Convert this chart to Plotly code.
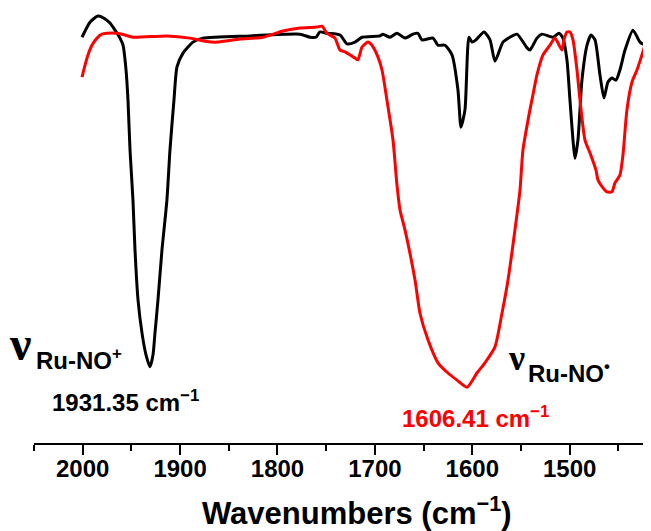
import plotly.graph_objects as go

# Black spectrum (Ru-NO+)
black_wn = [2000.7, 1992.5, 1984.3, 1978.1, 1972.0, 1966.8, 1961.7, 1958.6, 1955.5, 1953.5,
            1951.4, 1948.4, 1946.3, 1943.2, 1939.1, 1935.0, 1930.9, 1927.8, 1925.8, 1922.7,
            1918.6, 1913.5, 1910.4, 1906.3, 1903.2, 1897.0, 1886.8, 1876.5, 1828.2, 1776.9,
            1766.6, 1760.5, 1756.4, 1749.2, 1735.8, 1728.6, 1720.4, 1713.2, 1694.8, 1691.7,
            1684.5, 1677.3, 1669.1, 1660.9, 1655.8, 1651.6, 1640.4, 1635.2, 1628.0, 1620.8,
            1614.7, 1611.6, 1607.5, 1603.4, 1600.3, 1596.2, 1588.0, 1581.8, 1576.7, 1568.5,
            1561.3, 1554.1, 1543.8, 1540.8, 1533.6, 1528.4, 1517.1, 1511.0, 1506.9, 1502.8,
            1499.7, 1496.6, 1494.6, 1491.5, 1487.4, 1482.2, 1478.1, 1474.0, 1468.9, 1464.8,
            1460.7, 1456.6, 1452.5, 1448.4, 1443.2, 1435.0, 1427.8, 1422.7]
black_t = [91.6, 95.0, 96.4, 95.9, 94.8, 93.2, 91.4, 89.8, 84.2, 77.4,
           66.1, 54.9, 43.6, 32.3, 24.8, 19.9, 17.2, 19.9, 24.8, 32.3,
           43.6, 54.9, 66.1, 77.4, 84.9, 88.0, 90.5, 91.4, 91.9, 92.3,
           91.6, 91.6, 92.8, 92.5, 92.1, 90.1, 90.5, 91.6, 91.9, 92.3,
           91.6, 92.5, 91.4, 92.3, 92.5, 91.0, 91.4, 89.8, 89.8, 87.6,
           79.7, 71.3, 75.2, 91.6, 90.5, 91.0, 92.8, 91.0, 86.2, 90.5,
           91.6, 92.3, 89.2, 88.7, 91.4, 92.3, 91.6, 92.5, 91.4, 86.5,
           77.4, 68.4, 64.3, 68.4, 81.9, 89.8, 92.1, 91.0, 83.1, 77.9,
           81.5, 82.4, 81.9, 84.2, 88.7, 93.2, 90.5, 89.8]

# Red spectrum (Ru-NO radical)
red_wn = [2000.7, 1997.6, 1994.6, 1990.5, 1985.3, 1980.2, 1975.1, 1964.8, 1956.6, 1948.4,
          1913.5, 1889.8, 1874.4, 1862.1, 1838.5, 1814.9, 1794.4, 1776.9, 1759.4, 1754.3,
          1749.2, 1741.0, 1735.8, 1730.7, 1720.4, 1717.4, 1713.2, 1707.1, 1703.0, 1696.8,
          1692.7, 1687.6, 1681.4, 1677.3, 1674.2, 1669.1, 1658.8, 1653.7, 1645.5, 1635.2,
          1625.0, 1615.7, 1605.4, 1595.2, 1587.0, 1576.7, 1569.5, 1563.3, 1556.2, 1551.0,
          1548.0, 1540.8, 1537.7, 1533.6, 1527.4, 1520.2, 1515.1, 1507.9, 1505.9, 1502.8,
          1499.7, 1496.6, 1492.5, 1489.4, 1484.3, 1479.2, 1473.0, 1471.0, 1465.8, 1461.7,
          1456.6, 1453.5, 1448.4, 1445.3, 1441.2, 1436.0, 1430.9, 1426.8, 1422.7, 1417.6]
red_t = [82.6, 85.3, 87.6, 89.8, 91.4, 92.3, 92.5, 92.5, 92.1, 91.6,
         91.9, 91.4, 90.7, 90.5, 91.2, 91.6, 93.0, 93.7, 93.9, 94.1,
         92.5, 91.4, 88.7, 88.3, 86.9, 86.5, 89.4, 90.5, 89.8, 87.1,
         84.2, 77.4, 68.4, 58.2, 52.6, 48.1, 36.8, 29.3, 23.3, 18.1,
         15.8, 14.2, 12.6, 15.8, 18.1, 21.7, 29.3, 36.8, 48.1, 57.1,
         66.1, 75.2, 78.6, 83.1, 87.6, 89.8, 91.4, 88.7, 91.0, 92.8,
         92.8, 91.0, 84.2, 77.4, 68.4, 65.5, 61.6, 59.4, 57.6, 56.7,
         56.7, 58.7, 60.5, 65.0, 75.2, 81.5, 84.2, 86.9, 89.8, 92.8]

x_ticks = [2000, 1900, 1800, 1700, 1600, 1500]
x_range = [2050, 1416.5]
y_range = [0, 98.2]

FONT = "Liberation Sans, Arial, sans-serif"

fig = go.Figure()
fig.add_trace(go.Scatter(x=black_wn, y=black_t, mode="lines",
                         line=dict(color="black", width=3, shape="spline", smoothing=0.6),
                         showlegend=False))
fig.add_trace(go.Scatter(x=red_wn, y=red_t, mode="lines",
                         line=dict(color="#ff0000", width=3, shape="spline", smoothing=0.6),
                         showlegend=False))

fig.update_layout(
    width=643, height=523,
    margin=dict(l=26, r=0, t=0, b=88),
    paper_bgcolor="white", plot_bgcolor="white",
    xaxis=dict(
        range=x_range, tickmode="array", tickvals=x_ticks,
        ticktext=[str(v) for v in x_ticks],
        showline=True, linecolor="black", linewidth=2,
        ticks="outside", ticklen=10, tickwidth=2, tickcolor="black",
        ticklabelstandoff=-7,
        minor=dict(dtick=50, tick0=2050, ticks="outside", ticklen=6, tickwidth=2, tickcolor="black"),
        showgrid=False, zeroline=False,
        tickfont=dict(family=FONT, size=24, color="black", weight="bold"),
    ),
    yaxis=dict(visible=False, range=y_range),
)

ann_font = dict(family=FONT, size=24, color="black", weight="bold")
nu_font = dict(family="Liberation Serif, Times New Roman, serif", color="black", weight="bold")

annotations = [
    dict(text="\u03bd", x=-0.044, y=0.229, xanchor="left", yanchor="middle",
         font=dict(nu_font, size=48)),
    dict(text="Ru-NO<sup>+</sup>", x=0.0, y=0.192, xanchor="left", yanchor="middle",
         font=ann_font),
    dict(text="1931.35 cm<sup>\u22121</sup>", x=0.026, y=0.097, xanchor="left", yanchor="middle",
         font=ann_font),
    dict(text="1606.41 cm<sup>\u22121</sup>", x=0.593, y=0.06, xanchor="left", yanchor="middle",
         font=dict(ann_font, color="#ff0000")),
    dict(text="\u03bd", x=0.765, y=0.195, xanchor="left", yanchor="middle",
         font=dict(nu_font, size=36)),
    dict(text="Ru-NO<sup>\u2022</sup>", x=0.797, y=0.163, xanchor="left", yanchor="middle",
         font=ann_font),
    dict(text="Wavenumbers (cm<sup>\u22121</sup>)", x=0.5235, y=-0.157,
         xanchor="center", yanchor="middle",
         font=dict(family=FONT, size=31, color="black", weight="bold")),
]
for a in annotations:
    a.update(xref="paper", yref="paper", showarrow=False)
fig.update_layout(annotations=annotations)

fig.write_html("out.html")
